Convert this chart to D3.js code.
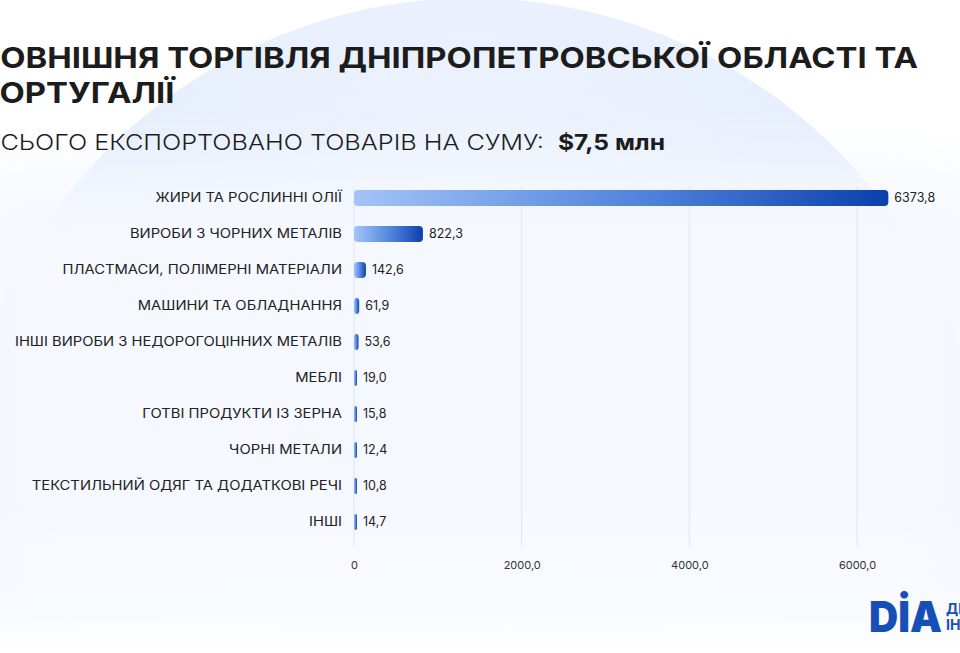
<!DOCTYPE html>
<html>
<head>
<meta charset="utf-8">
<script src="https://cdn.jsdelivr.net/npm/d3@7"></script>
<style>
  html, body { margin: 0; padding: 0; background: #fff; }
  svg { display: block; }
</style>
</head>
<body>
<div id="chart"></div>
<script>
'use strict';

// data
var categories = [
  "ЖИРИ ТА РОСЛИННІ ОЛІЇ",
  "ВИРОБИ З ЧОРНИХ МЕТАЛІВ",
  "ПЛАСТМАСИ, ПОЛІМЕРНІ МАТЕРІАЛИ",
  "МАШИНИ ТА ОБЛАДНАННЯ",
  "ІНШІ ВИРОБИ З НЕДОРОГОЦІННИХ МЕТАЛІВ",
  "МЕБЛІ",
  "ГОТВІ ПРОДУКТИ ІЗ ЗЕРНА",
  "ЧОРНІ МЕТАЛИ",
  "ТЕКСТИЛЬНИЙ ОДЯГ ТА ДОДАТКОВІ РЕЧІ",
  "ІНШІ"
];
var values = [6373.8, 822.3, 142.6, 61.9, 53.6, 19.0, 15.8, 12.4, 10.8, 14.7];
var tickValues = [0, 2000, 4000, 6000];
var titleLines = ["ЗОВНІШНЯ ТОРГІВЛЯ ДНІПРОПЕТРОВСЬКОЇ ОБЛАСТІ ТА", "ПОРТУГАЛІЇ"];
var subtitle = "ВСЬОГО ЕКСПОРТОВАНО ТОВАРІВ НА СУМУ:";
var total = "$7,5 млн";

var width = 960, height = 653;
var font = "Inter, 'Open Sans', sans-serif";
var fmt = function (v) { return v === 0 ? "0" : d3.format(".1f")(v).replace(".", ","); };

// the original font is wider than Inter, so stretch text horizontally
function widen(sel, k) {
  sel.each(function () {
    var w = this.getComputedTextLength();
    d3.select(this).attr("textLength", w * k).attr("lengthAdjust", "spacingAndGlyphs");
  });
}

var svg = d3.select("#chart").append("svg")
  .attr("width", width).attr("height", height);

var defs = svg.append("defs");

var bg = defs.append("radialGradient").attr("id", "circleFill")
  .attr("cx", "50%").attr("cy", "20%").attr("r", "60%");
bg.append("stop").attr("offset", "0%").attr("stop-color", "#edf3fd");
bg.append("stop").attr("offset", "100%").attr("stop-color", "#e2ecfb");

defs.append("filter").attr("id", "blur")
  .attr("x", "-30%").attr("y", "-30%").attr("width", "160%").attr("height", "160%")
  .append("feGaussianBlur").attr("stdDeviation", 32);

var fade = defs.append("linearGradient").attr("id", "fade")
  .attr("x1", 0).attr("y1", 0).attr("x2", 0).attr("y2", 1);
fade.append("stop").attr("offset", "0%").attr("stop-color", "#fff").attr("stop-opacity", 0);
fade.append("stop").attr("offset", "100%").attr("stop-color", "#fff").attr("stop-opacity", 1);

var barGrad = defs.append("linearGradient").attr("id", "barGrad")
  .attr("x1", 0).attr("y1", 0).attr("x2", 1).attr("y2", 0);
barGrad.append("stop").attr("offset", "0%").attr("stop-color", "#a3c4f7");
barGrad.append("stop").attr("offset", "55%").attr("stop-color", "#4f82dc");
barGrad.append("stop").attr("offset", "100%").attr("stop-color", "#0b40ad");

// background: big pale circle + soft haze over the plot
svg.append("rect").attr("width", width).attr("height", height).attr("fill", "#ffffff");
svg.append("circle").attr("cx", 472).attr("cy", 512).attr("r", 514).attr("fill", "url(#circleFill)");
svg.append("rect")
  .attr("x", -40).attr("y", 170).attr("width", 1040).attr("height", 420).attr("rx", 60)
  .attr("fill", "#f5f8fe").attr("filter", "url(#blur)");
svg.append("rect").attr("x", 0).attr("y", 500).attr("width", width).attr("height", 153)
  .attr("fill", "url(#fade)");

// title
var title = svg.append("g").attr("font-family", font).attr("fill", "#1c1c1c");
var t1 = title.append("text").attr("x", -21).attr("y", 68)
  .attr("font-size", 29).attr("font-weight", 700).text(titleLines[0]);
var k1 = 939 / t1.node().getComputedTextLength();
widen(t1, k1);
var t2 = title.append("text").attr("x", -25).attr("y", 103)
  .attr("font-size", 29).attr("font-weight", 700).text(titleLines[1]);
widen(t2, k1);
var st = title.append("text").attr("x", -16).attr("y", 150)
  .attr("font-size", 22).attr("font-weight", 300).text(subtitle);
st.attr("textLength", 560).attr("lengthAdjust", "spacingAndGlyphs");
var tt = title.append("text").attr("x", 558).attr("y", 150)
  .attr("font-size", 22).attr("font-weight", 700).text(total);
tt.attr("textLength", 107).attr("lengthAdjust", "spacingAndGlyphs");

// scales
var x = d3.scaleLinear().domain([0, 6000]).range([354, 857]);
var y = d3.scaleBand().domain(categories).range([180, 540])
  .paddingInner(0.55).paddingOuter(0.275);

var plot = svg.append("g").attr("font-family", font);

// grid lines
plot.selectAll(".grid").data(tickValues).join("line")
  .attr("class", "grid")
  .attr("x1", function (d) { return x(d); }).attr("x2", function (d) { return x(d); })
  .attr("y1", 186).attr("y2", 546)
  .attr("stroke", "#e0e6ef").attr("stroke-width", 1);

// x axis labels
var xAxis = d3.axisBottom(x).tickValues(tickValues).tickFormat(fmt).tickSize(0).tickPadding(0);
var ax = plot.append("g").attr("transform", "translate(0,561)").call(xAxis);
ax.select(".domain").remove();
ax.selectAll("text").attr("font-size", 11).attr("fill", "#333").attr("font-family", font);

// category labels
var yAxis = d3.axisLeft(y).tickSize(0).tickPadding(0);
var ay = plot.append("g").attr("transform", "translate(342,0)").call(yAxis);
ay.select(".domain").remove();
ay.selectAll("text").attr("font-size", 12.5).attr("fill", "#222").attr("font-family", font)
  .call(widen, 1.18);

// bars
plot.selectAll(".bar").data(values).join("rect")
  .attr("class", "bar")
  .attr("x", x(0))
  .attr("y", function (d, i) { return y(categories[i]); })
  .attr("width", function (d) { return Math.max(3, x(d) - x(0)); })
  .attr("height", y.bandwidth())
  .attr("rx", function (d) { return Math.min(4, (x(d) - x(0)) / 2 + 1); })
  .attr("fill", "url(#barGrad)");

// value labels
plot.selectAll(".val").data(values).join("text")
  .attr("class", "val")
  .attr("x", function (d) { return Math.max(x(0) + 3, x(d)) + 6; })
  .attr("y", function (d, i) { return y(categories[i]) + y.bandwidth() / 2; })
  .attr("dy", "0.35em")
  .attr("font-size", 12.5).attr("fill", "#222")
  .text(fmt);

// logo (cut at the right edge, as in the original)
var logo = svg.append("g").attr("font-family", font).attr("fill", "#1650b6");
logo.append("text").attr("x", 869).attr("y", 632)
  .attr("font-size", 42).attr("font-weight", 900)
  .attr("textLength", 73).attr("lengthAdjust", "spacingAndGlyphs").text("DİA");
logo.append("text").attr("x", 946).attr("y", 614)
  .attr("font-size", 14).attr("font-weight", 700).text("ДНІПРО");
logo.append("text").attr("x", 946).attr("y", 630)
  .attr("font-size", 14).attr("font-weight", 700).text("ІННОВАЦІЇ");
</script>
</body>
</html>
